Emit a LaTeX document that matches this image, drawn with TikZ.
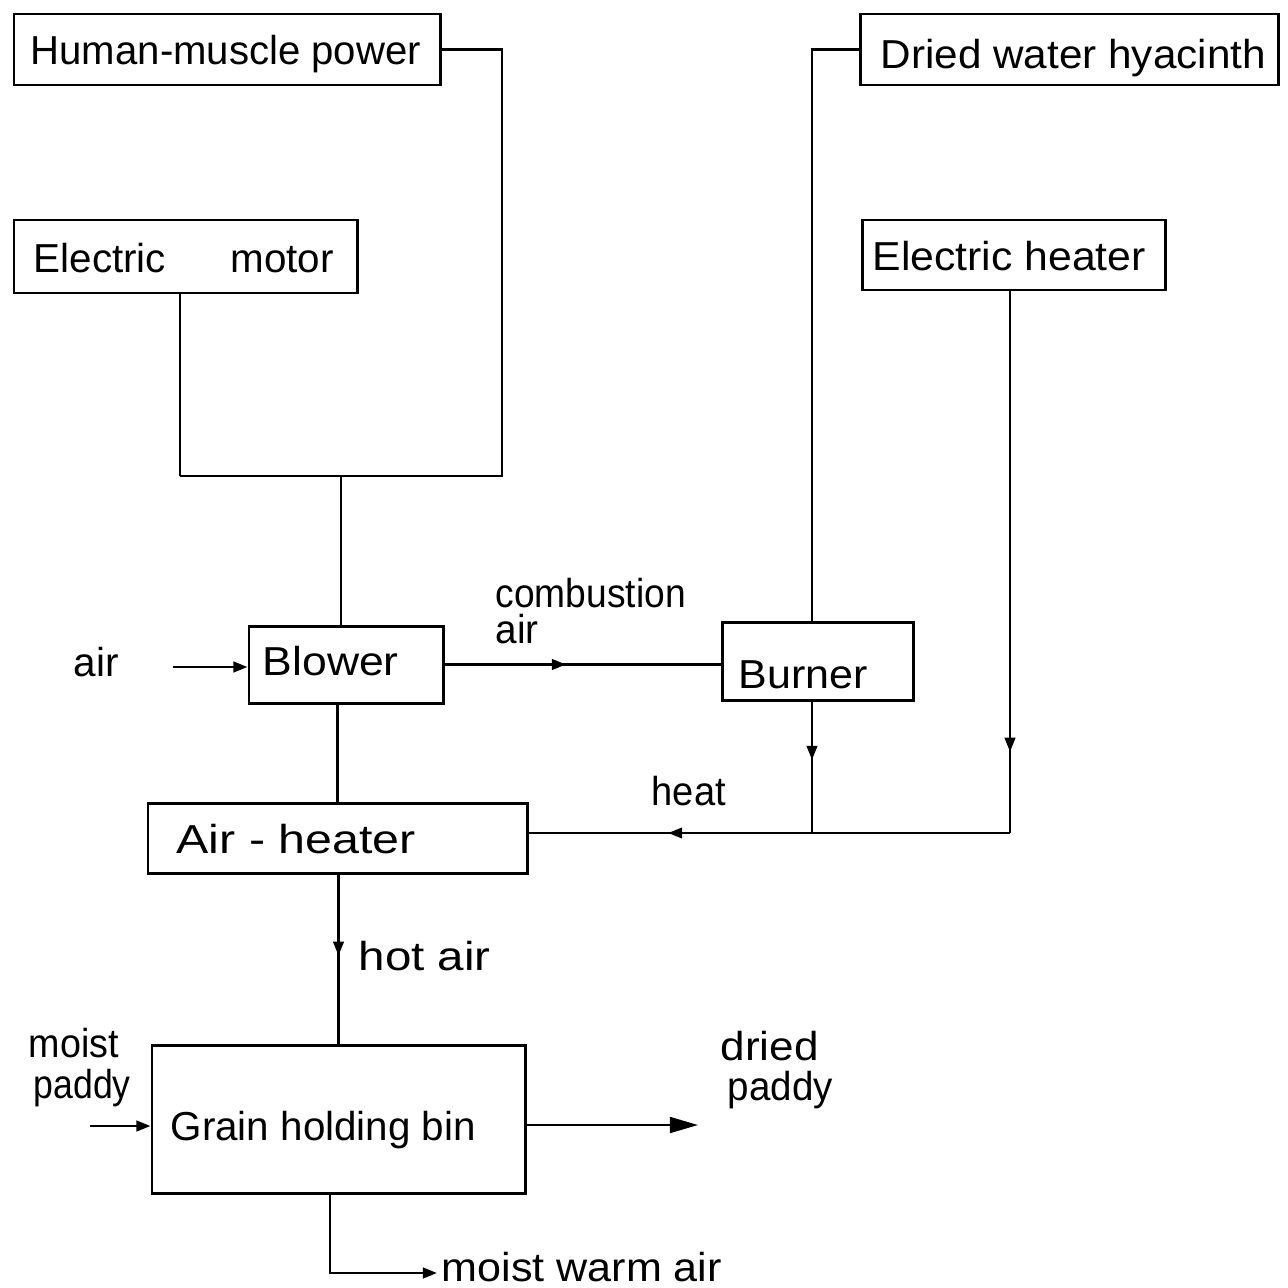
\documentclass[tikz,border=0pt]{standalone}
\usepackage{fontspec}
\setmainfont{Liberation Sans}
\usepackage{graphicx}
\usetikzlibrary{fit,arrows.meta,decorations.markings}
\newcommand\fitx[2]{\resizebox{#1}{\height}{#2}}
\tikzset{
  box/.style={draw, line width=0.85pt, inner sep=0pt},
  txt/.style={anchor=base west, inner sep=0pt, font=\fontsize{11.5}{14}\selectfont},
  conn/.style={line width=0.7pt},
  midarr/.style={postaction={decorate,decoration={markings,mark=at position #1 with {\arrow{Triangle[length=4pt,width=3pt]}}}}},
  endarr/.style={-{Triangle[length=4pt,width=3pt]}},
  bigarr/.style={-{Triangle[length=8pt,width=4.5pt]}}
}
\begin{document}
\begin{tikzpicture}[x=0.01cm,y=-0.01cm]
\useasboundingbox (0,0) rectangle (1287,1288);
% boxes
\node[box, fit={(14,14) (440,85)}] (hm) {};
\node[box, fit={(860,14) (1278,85)}] (dw) {};
\node[box, fit={(14,220) (357,293)}] (em) {};
\node[box, fit={(862,220) (1165,290)}] (eh) {};
\node[box, fit={(249,626) (443,703)}] (bl) {};
\node[box, fit={(722,622) (913,700)}] (bu) {};
\node[box, fit={(148,803) (527,873)}] (ah) {};
\node[box, fit={(152,1045) (525,1193)}] (gb) {};
% texts
\node[txt] (hmT) at (30,65) {\fitx{3.90cm}{Human-muscle power}};
\node[txt] (dwT) at (880,69) {\fitx{3.85cm}{Dried water hyacinth}};
\node[txt] (emT) at (33,272) {\fitx{3.00cm}{Electric\hspace{1.6em}motor}};
\node[txt] (ehT) at (872,270) {\fitx{2.73cm}{Electric heater}};
\node[txt] (cbT) at (495,607) {\fitx{1.90cm}{combustion}};
\node[txt] (caT) at (495,643) {\fitx{0.43cm}{air}};
\node[txt] (buT) at (738,688) {\fitx{1.29cm}{Burner}};
\node[txt] (blT) at (262,675) {\fitx{1.36cm}{Blower}};
\node[txt] (ahT) at (176,853) {\fitx{2.39cm}{Air - heater}};
\node[txt] (haT) at (358,970) {\fitx{1.32cm}{hot air}};
\node[txt] (heT) at (651,805) {\fitx{0.74cm}{heat}};
\node[txt] (airT) at (73,676) {\fitx{0.45cm}{air}};
\node[txt] (mpT1) at (28,1057) {\fitx{0.90cm}{moist}};
\node[txt] (mpT2) at (33,1098) {\fitx{0.97cm}{paddy}};
\node[txt] (gbT) at (170,1140) {\fitx{3.05cm}{Grain holding bin}};
\node[txt] (dpT1) at (720,1060) {\fitx{0.98cm}{dried}};
\node[txt] (dpT2) at (727,1100) {\fitx{1.05cm}{paddy}};
\node[txt] (mwT) at (441,1281) {\fitx{2.80cm}{moist warm air}};
% coordinates
\coordinate (jR) at (502,476);
\coordinate (jL) at (180,476);
\coordinate (jB) at (341,476);
\coordinate (xB) at (812,700);
\coordinate (hR) at (1010,833);
\coordinate (hB) at (812,833);
\coordinate (airS) at (173,667);
\coordinate (mpS) at (90,1126);
\coordinate (dpE) at (698,1125);
\coordinate (mwC) at (330,1273);
\coordinate (mwE) at (437,1273);
% connectors
\draw[conn] (hm.east) -| (jR) -- (jL);
\draw[conn] (em.south -| jL) -- (jL);
\draw[conn] (jB) -- (jB |- bl.north);
\draw[conn] (dw.west) -| (xB |- bu.north);
\draw[conn,midarr=0.44] (bl.east) -- (bl.east -| bu.west);
\draw[conn,midarr=0.45] (xB) -- (hB);
\draw[conn,midarr=0.85] (eh.south -| hR) -- (hR);
\draw[conn,midarr=0.71] (hR) -- (hR -| ah.east);
\draw[conn] (ah.north |- bl.south) -- (ah.north);
\draw[conn,midarr=0.48] (gb.north |- ah.south) -- (gb.north);
\draw[conn,endarr] (airS) -- (airS -| bl.west);
\draw[conn,endarr] (mpS) -- (mpS -| gb.west);
\draw[conn,bigarr] (dpE -| gb.east) -- (dpE);
\draw[conn,endarr] (mwC |- gb.south) -- (mwC) -- (mwE);
\end{tikzpicture}
\end{document}
